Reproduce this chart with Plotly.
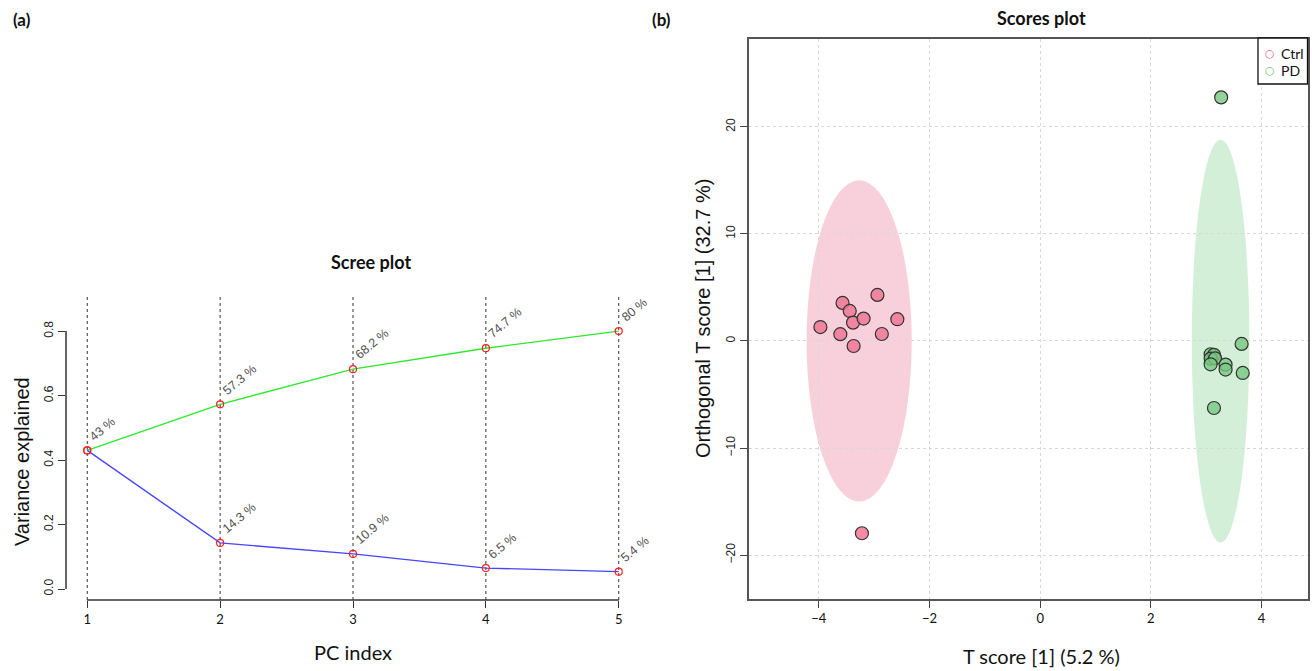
import plotly.graph_objects as go

# ---------------- data ----------------
pc_index = [1, 2, 3, 4, 5]
var_individual = [0.430, 0.143, 0.109, 0.065, 0.054]
var_cumulative = [0.430, 0.573, 0.682, 0.747, 0.800]
lbl_individual = ["43 %", "14.3 %", "10.9 %", "6.5 %", "5.4 %"]
lbl_cumulative = ["43 %", "57.3 %", "68.2 %", "74.7 %", "80 %"]

ctrl_t = [-3.97, -3.57, -3.44, -3.38, -3.19, -2.94, -2.58, -3.61, -2.86, -3.37, -3.22]
ctrl_o = [1.3, 3.55, 2.8, 1.71, 2.09, 4.3, 2.03, 0.63, 0.65, -0.47, -17.96]
pd_t = [3.64, 3.08, 3.14, 3.08, 3.16, 3.08, 3.35, 3.35, 3.66, 3.14, 3.27]
pd_o = [-0.28, -1.24, -1.30, -1.65, -1.62, -2.18, -2.21, -2.67, -2.99, -6.26, 22.75]

ellipse_groups = ["Ctrl", "PD"]
ellipse_cx = [-3.27, 3.26]
ellipse_cy = [0.0, 0.0]
ellipse_rx = [0.95, 0.52]
ellipse_ry = [15.0, 18.8]

legend_labels = ["Ctrl", "PD"]
legend_colors = ["#EE5A7E", "#66C46E"]

scree_yticks = [0.0, 0.2, 0.4, 0.6, 0.8]
scree_yticklabels = ["0.0", "0.2", "0.4", "0.6", "0.8"]
score_xticks = [-4, -2, 0, 2, 4]
score_yticks = [-20, -10, 0, 10, 20]

# ---------------- figure ----------------
W, H = 1312, 671
fig = go.Figure()

R_FONT = "Liberation Sans"
C_FONT = "Lato"


def fx(x):
    return x / W


def fy(y):
    return 1 - y / H


# Scree plot traces
fig.add_trace(go.Scatter(x=pc_index, y=var_cumulative, mode="lines+markers",
                         line=dict(color="#2EE82E", width=1.4),
                         marker=dict(symbol="circle-open", size=7, color="#FF2020", line=dict(width=1.2)),
                         xaxis="x", yaxis="y", showlegend=False, hoverinfo="skip"))
fig.add_trace(go.Scatter(x=pc_index, y=var_individual, mode="lines+markers",
                         line=dict(color="#4646FF", width=1.4),
                         marker=dict(symbol="circle-open", size=7, color="#FF2020", line=dict(width=1.2)),
                         xaxis="x", yaxis="y", showlegend=False, hoverinfo="skip"))

# Scores plot traces
fig.add_trace(go.Scatter(x=ctrl_t, y=ctrl_o, mode="markers", name="Ctrl",
                         marker=dict(size=13, color="rgba(240,120,148,0.85)",
                                     line=dict(color="#333333", width=1.2)),
                         xaxis="x2", yaxis="y2", showlegend=False, hoverinfo="skip"))
fig.add_trace(go.Scatter(x=pd_t, y=pd_o, mode="markers", name="PD",
                         marker=dict(size=13, color="rgba(120,200,130,0.8)",
                                     line=dict(color="#333333", width=1.2)),
                         xaxis="x2", yaxis="y2", showlegend=False, hoverinfo="skip"))

shapes = []
# ellipses
fills = {"Ctrl": "rgba(245,190,205,0.72)", "PD": "rgba(200,235,205,0.8)"}
for g, cx, cy, rx, ry in zip(ellipse_groups, ellipse_cx, ellipse_cy, ellipse_rx, ellipse_ry):
    shapes.append(dict(type="circle", xref="x2", yref="y2", x0=cx - rx, x1=cx + rx,
                       y0=cy - ry, y1=cy + ry, fillcolor=fills[g], line=dict(width=0), layer="below"))
# vertical dotted lines in scree plot
for p in pc_index:
    shapes.append(dict(type="line", xref="x", yref="y domain", x0=p, x1=p, y0=0, y1=1,
                       line=dict(color="#333333", width=1, dash="dot"), layer="below"))
# R style axis lines (span ticks only)
shapes.append(dict(type="line", xref="x", yref="y domain", x0=pc_index[0], x1=pc_index[-1], y0=0, y1=0,
                   line=dict(color="#333333", width=1.5)))
shapes.append(dict(type="line", xref="x domain", yref="y", x0=0, x1=0, y0=scree_yticks[0], y1=scree_yticks[-1],
                   line=dict(color="#333333", width=1.5)))
# manual legend box
shapes.append(dict(type="rect", xref="paper", yref="paper", x0=fx(1258), x1=fx(1307.5), y0=fy(84), y1=fy(38),
                   line=dict(color="#111111", width=1.3), fillcolor="white"))

annotations = []
# percentage labels
for xs, ys, ls in [(pc_index, var_cumulative, lbl_cumulative), (pc_index[1:], var_individual[1:], lbl_individual[1:])]:
    for xv, yv, lv in zip(xs, ys, ls):
        annotations.append(dict(x=xv, y=yv, xref="x", yref="y", text=lv, showarrow=False,
                                textangle=-40, xanchor="left", yanchor="bottom", xshift=-3, yshift=4,
                                font=dict(family=R_FONT, size=12.5, color="#505050")))


def pix_ann(text, x, y, size, family, bold=False, angle=0, color="#111111", xanchor="center"):
    annotations.append(dict(x=fx(x), y=fy(y), xref="paper", yref="paper",
                            text=f"<b>{text}</b>" if bold else text, showarrow=False,
                            textangle=angle, xanchor=xanchor, yanchor="middle",
                            font=dict(family=family, size=size, color=color)))


pix_ann("(a)", 22, 20, 17, C_FONT, bold=True)
pix_ann("(b)", 662, 20, 17, C_FONT, bold=True)
pix_ann("Scree plot", 371, 262, 18, C_FONT, bold=True)
pix_ann("Scores plot", 1041, 18, 18, C_FONT, bold=True)
pix_ann("PC index", 353, 652, 20, C_FONT)
pix_ann("Variance explained", 22, 462, 20, R_FONT, angle=-90)
pix_ann("T score [1] (5.2 %)", 1041, 656, 20, C_FONT)
pix_ann("Orthogonal T score [1] (32.7 %)", 703, 318, 20, R_FONT, angle=-90)
# legend entries
for i, (lab, col) in enumerate(zip(legend_labels, legend_colors)):
    yy = 53 + 17 * i
    pix_ann("○", 1270, yy, 11, "DejaVu Sans", color=col)
    pix_ann(lab, 1279, yy, 14, C_FONT, xanchor="left")

fig.update_layout(
    width=W, height=H, margin=dict(l=0, r=0, t=0, b=0),
    paper_bgcolor="white", plot_bgcolor="white",
    shapes=shapes, annotations=annotations, showlegend=False,
    xaxis=dict(domain=[fx(66), fx(640)], range=[0.84, 5.16], anchor="y",
               tickvals=pc_index, ticktext=[str(p) for p in pc_index],
               ticks="outside", ticklen=7, tickcolor="#333333", showline=False,
               showgrid=False, zeroline=False,
               tickfont=dict(family=C_FONT, size=13, color="#111111")),
    yaxis=dict(domain=[fy(600), fy(295)], range=[-0.034, 0.912], anchor="x",
               tickvals=scree_yticks, ticktext=scree_yticklabels, tickangle=-90,
               ticks="outside", ticklen=7, tickcolor="#333333", showline=False,
               showgrid=False, zeroline=False,
               tickfont=dict(family=R_FONT, size=12, color="#222222")),
    xaxis2=dict(domain=[fx(749), fx(1307.5)], range=[-5.26, 4.83], anchor="y2",
                tickvals=score_xticks, ticks="outside", ticklen=7, tickcolor="#444444",
                showline=True, mirror=True, linecolor="#555555", linewidth=1.5,
                showgrid=True, gridcolor="#D8D8D8", griddash="dot", gridwidth=1, zeroline=False,
                tickfont=dict(family=C_FONT, size=13, color="#111111")),
    yaxis2=dict(domain=[fy(599), fy(39)], range=[-24.1, 28.2], anchor="x2",
                tickvals=score_yticks, tickangle=-90, ticks="outside", ticklen=7, tickcolor="#444444",
                showline=True, mirror=True, linecolor="#555555", linewidth=1.5,
                showgrid=True, gridcolor="#D8D8D8", griddash="dot", gridwidth=1, zeroline=False,
                tickfont=dict(family=R_FONT, size=12, color="#222222")),
)

fig.write_html("out.html", config={"displayModeBar": False},
               post_script="document.body.style.margin='0';document.body.style.overflow='hidden';")
